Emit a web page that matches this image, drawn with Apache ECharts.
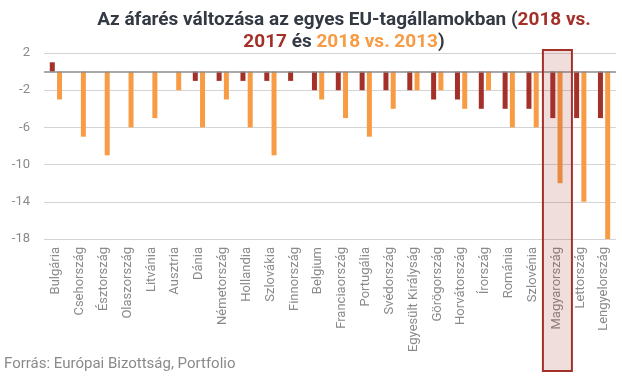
<!DOCTYPE html>
<html>
<head>
<meta charset="utf-8">
<script src="https://cdn.jsdelivr.net/npm/echarts@6/dist/echarts.min.js"></script>
<style>
html,body{margin:0;padding:0;background:#fff;}
#chart{width:622px;height:378px;}
</style>
</head>
<body>
<div id="chart"></div>
<script>
const categories = ["Bulgária","Csehország","Észtország","Olaszország","Litvánia","Ausztria","Dánia","Németország","Hollandia","Szlovákia","Finnország","Belgium","Franciaország","Portugália","Svédország","Egyesült Királyság","Görögország","Horvátország","Írország","Románia","Szlovénia","Magyarország","Lettország","Lengyelország"];
const change2018vs2017 = [1,0,0,0,0,0,-1,-1,-1,-1,-1,-2,-2,-2,-2,-2,-3,-3,-4,-4,-4,-5,-5,-5];
const change2018vs2013 = [-3,-7,-9,-6,-5,-2,-6,-3,-6,-9,0,-3,-5,-7,-4,-2,-2,-4,-2,-6,-6,-12,-14,-18];
const yTicks = [2,-2,-6,-10,-14,-18];
const highlighted = "Magyarország";

const DARK = '#a4302a', ORANGE = '#f79b45', TXT = '#343a44', GREY = '#8a8a8a';
const FONT = 'Roboto';

const chart = echarts.init(document.getElementById('chart'), null, {renderer:'canvas'});
chart.setOption({
  animation:false,
  textStyle:{fontFamily:FONT},
  title:{
    text:'{a|Az áfarés változása az egyes EU-tagállamokban (}{r|2018 vs.}\n{r|2017}{a| és }{o|2018 vs. 2013}{a|)}',
    left:339, top:4, textAlign:'center',
    textStyle:{
      rich:{
        a:{color:TXT, fontSize:19, fontWeight:'bold', fontFamily:FONT, lineHeight:22},
        r:{color:DARK, fontSize:19, fontWeight:'bold', fontFamily:FONT, lineHeight:22},
        o:{color:ORANGE, fontSize:19, fontWeight:'bold', fontFamily:FONT, lineHeight:22}
      }
    }
  },
  grid:{left:44, right:6, top:53, bottom:139, containLabel:false},
  xAxis:{
    type:'category', data:categories,
    axisLine:{show:false}, axisTick:{show:false},
    axisLabel:{rotate:90, color:GREY, fontSize:13, margin:8, interval:0, fontFamily:FONT}
  },
  yAxis:{
    type:'value', min:-18, max:2, interval:4,
    axisLine:{show:false}, axisTick:{show:false},
    axisLabel:{color:GREY, fontSize:13, margin:14, fontFamily:FONT,
      customValues: yTicks},
    splitLine:{lineStyle:{color:'#d4d4d4', width:1}}
  },
  series:[
    {type:'bar', name:'2018 vs. 2017', data:change2018vs2017, barWidth:5, barGap:'45%',
     itemStyle:{color:DARK},
     markLine:{silent:true, symbol:'none', label:{show:false},
       lineStyle:{color:'#8c8c8c', width:1.5, type:'solid'}, data:[{yAxis:0}]}},
    {type:'bar', name:'2018 vs. 2013', data:change2018vs2013, barWidth:5,
     itemStyle:{color:ORANGE}}
  ]
});

const idx = categories.indexOf(highlighted);
const cx = chart.convertToPixel({xAxisIndex:0}, idx);
const yTop = chart.convertToPixel({yAxisIndex:0}, 2);
chart.setOption({
  graphic:[
    {type:'text', left:4, top:357, style:{text:'Forrás: Európai Bizottság, Portfolio', fill:GREY, font:'15px Roboto'}},
    {type:'rect', z:100, silent:true,
     shape:{x:cx-13.5, y:yTop-3, width:29, height:371-(yTop-3)},
     style:{fill:'rgba(164,48,42,0.16)', stroke:DARK, lineWidth:2}}
  ]
});
</script>
</body>
</html>
